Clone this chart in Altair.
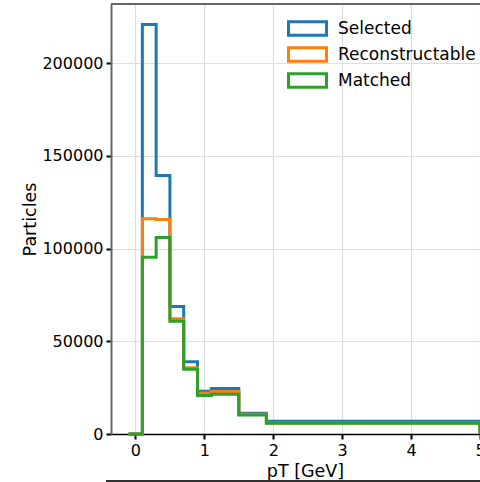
import altair as alt
import pandas as pd

# Histogram bin edges (pT in GeV) and counts per bin for each particle category
edges = [-0.1, 0.1, 0.3, 0.5, 0.7, 0.9, 1.1, 1.5, 1.9, 5.0]
selected = [0, 221000, 139500, 68800, 39000, 23100, 24600, 11200, 6900]
reconstructable = [0, 116100, 115700, 62200, 35800, 22100, 22900, 10700, 6000]
matched = [0, 95400, 106000, 60800, 34900, 20800, 21500, 10300, 5800]

series_names = ["Selected", "Reconstructable", "Matched"]
series_colors = ["#1f77b4", "#ff7f0e", "#2ca02c"]
x_ticks = [0, 1, 2, 3, 4, 5]
y_ticks = [0, 50000, 100000, 150000, 200000]

FONT = "DejaVu Sans"
W, H = 369, 430


def step_rows(name, counts):
    # step-after outline: each bin's left edge carries its count,
    # then close at the last edge and drop back to zero
    rows = [{"series": name, "order": i, "pt": edges[i], "count": c}
            for i, c in enumerate(counts)]
    n = len(counts)
    rows.append({"series": name, "order": n, "pt": edges[-1], "count": counts[-1]})
    rows.append({"series": name, "order": n + 1, "pt": edges[-1], "count": 0})
    return rows


rows = (step_rows("Selected", selected)
        + step_rows("Reconstructable", reconstructable)
        + step_rows("Matched", matched))
df = pd.DataFrame(rows)

x_scale = alt.Scale(domain=[-0.355, 5.0], nice=False, zero=False)
y_scale = alt.Scale(domain=[0, 232000], nice=False)
color_scale = alt.Scale(domain=series_names, range=series_colors)

x_axis = alt.Axis(
    values=x_ticks, format="d", title="pT [GeV]",
    grid=True, gridColor="#dddddd", gridWidth=1.2,
    domainColor="black", domainWidth=1.5,
    tickColor="black", tickSize=5, tickWidth=2,
    labelFont=FONT, labelFontSize=16, labelColor="black", labelPadding=3,
    labelFlush=False, labelOverlap=False,
    titleFont=FONT, titleFontSize=17.5, titleFontWeight="normal", titleColor="black",
    titleX=194, titleY=42, titleBaseline="alphabetic",
)
y_axis = alt.Axis(
    values=y_ticks, format="d", title="Particles",
    grid=True, gridColor="#dddddd", gridWidth=1.2,
    domainColor="#666666", domainWidth=2,
    tickColor="black", tickSize=5, tickWidth=2,
    labelFont=FONT, labelFontSize=16, labelColor="black", labelPadding=3,
    titleFont=FONT, titleFontSize=17.5, titleFontWeight="normal", titleColor="black",
    titleX=-81, titleY=H / 2, titleAngle=270, titleBaseline="middle",
)

legend = alt.Legend(
    title=None, orient="none", legendX=187, legendY=15,
    symbolType="M-2.5,-0.9H2.5V0.9H-2.5Z", symbolSize=231,
    symbolStrokeWidth=3, symbolFillColor="white",
    labelFont=FONT, labelFontSize=17, labelColor="black",
    labelOffset=21, rowPadding=-1, padding=0,
)


def layer_for(name):
    return (
        alt.Chart(df)
        .transform_filter(alt.datum.series == name)
        .mark_line(interpolate="step-after", strokeWidth=3, strokeJoin="miter")
        .encode(
            x=alt.X("pt:Q", scale=x_scale, axis=x_axis),
            y=alt.Y("count:Q", scale=y_scale, axis=y_axis),
            color=alt.Color("series:N", scale=color_scale, legend=legend),
            order=alt.Order("order:Q"),
        )
    )


# frame line along the top of the plot area
top_spine = alt.Chart(df).mark_rule(color="#666666", strokeWidth=2).encode(
    x=alt.value(0), x2=alt.value(W), y=alt.value(0)
)
# separator line below the axis title
bottom_line = alt.Chart(df).mark_rule(color="#333333", strokeWidth=1.5).encode(
    x=alt.value(-5), x2=alt.value(W), y=alt.value(477)
)

chart = alt.layer(
    layer_for("Selected"),
    layer_for("Reconstructable"),
    layer_for("Matched"),
    top_spine,
    bottom_line,
).properties(
    width=W, height=H,
    autosize=alt.AutoSizeParams(type="none"),
    padding={"left": 111, "top": 4, "right": 0, "bottom": 48},
).configure_view(stroke=None).configure(background="white")

chart.save("out.html", embed_options={"renderer": "svg", "actions": False})
